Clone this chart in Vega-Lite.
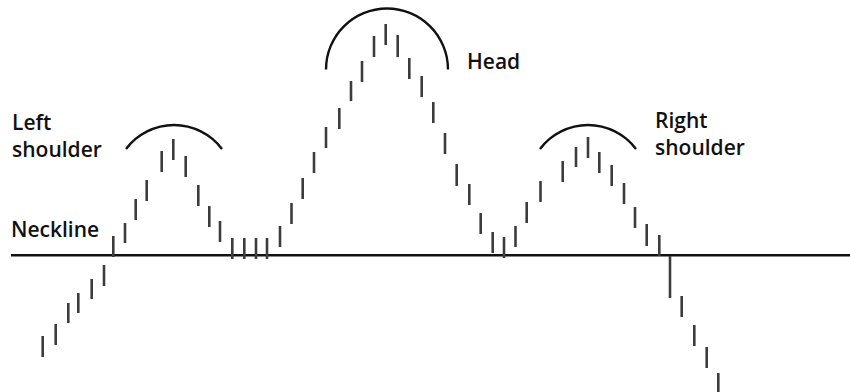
{
  "$schema": "https://vega.github.io/schema/vega-lite/v6.json",
  "width": 850,
  "height": 392,
  "padding": 0,
  "autosize": {"type": "none"},
  "background": "white",
  "config": {"view": {"stroke": null}},
  "datasets": {
    "bars": [
      {"t": 42.7, "high": 56, "low": 35},
      {"t": 55.7, "high": 68, "low": 47},
      {"t": 68.3, "high": 89, "low": 69},
      {"t": 78.3, "high": 99, "low": 79},
      {"t": 91.7, "high": 113, "low": 93},
      {"t": 104, "high": 127, "low": 106},
      {"t": 113.3, "high": 156, "low": 135},
      {"t": 125, "high": 169, "low": 149},
      {"t": 135.7, "high": 193, "low": 172},
      {"t": 146.7, "high": 212, "low": 191},
      {"t": 161.7, "high": 241, "low": 220},
      {"t": 173.3, "high": 253, "low": 232},
      {"t": 185.7, "high": 236, "low": 215},
      {"t": 198.3, "high": 207, "low": 186},
      {"t": 209.3, "high": 186, "low": 165},
      {"t": 220, "high": 171, "low": 150},
      {"t": 232.3, "high": 154, "low": 133},
      {"t": 244.3, "high": 154, "low": 133},
      {"t": 256, "high": 154, "low": 133},
      {"t": 267, "high": 154, "low": 133},
      {"t": 280, "high": 166, "low": 145},
      {"t": 291.5, "high": 189, "low": 168},
      {"t": 302.7, "high": 214, "low": 193},
      {"t": 314, "high": 240, "low": 219},
      {"t": 326, "high": 265, "low": 244},
      {"t": 339.3, "high": 284, "low": 263},
      {"t": 351, "high": 311, "low": 291},
      {"t": 362, "high": 331, "low": 310},
      {"t": 374, "high": 356, "low": 335},
      {"t": 385.7, "high": 368, "low": 347},
      {"t": 397.7, "high": 357, "low": 335},
      {"t": 409.3, "high": 334, "low": 313},
      {"t": 421.7, "high": 316, "low": 295},
      {"t": 433.3, "high": 290, "low": 269},
      {"t": 445, "high": 259, "low": 238},
      {"t": 456.7, "high": 228, "low": 206},
      {"t": 469.3, "high": 208, "low": 187},
      {"t": 480.7, "high": 179, "low": 158},
      {"t": 492.7, "high": 160, "low": 139},
      {"t": 504, "high": 155, "low": 134},
      {"t": 515.5, "high": 166, "low": 145},
      {"t": 526.7, "high": 190, "low": 169},
      {"t": 540.5, "high": 211, "low": 190},
      {"t": 562.7, "high": 231, "low": 210},
      {"t": 576, "high": 245, "low": 225},
      {"t": 588, "high": 255, "low": 234},
      {"t": 599.3, "high": 240, "low": 219},
      {"t": 611.7, "high": 227, "low": 206},
      {"t": 624, "high": 209, "low": 188},
      {"t": 635, "high": 185, "low": 164},
      {"t": 646.7, "high": 168, "low": 146},
      {"t": 659.3, "high": 157, "low": 136},
      {"t": 670, "high": 136, "low": 94},
      {"t": 681.7, "high": 96, "low": 75},
      {"t": 694.3, "high": 67, "low": 46},
      {"t": 706.7, "high": 45, "low": 24},
      {"t": 718.3, "high": 19, "low": -3}
    ],
    "neckline": [{"t": 11, "t2": 850, "price": 136.7}],
    "arcs": [
      {"name": "Left shoulder", "t": 174, "price": 207, "start": -0.927, "end": 0.927},
      {"name": "Head", "t": 387, "price": 322.5, "start": -1.5708, "end": 1.5708},
      {"name": "Right shoulder", "t": 588, "price": 207, "start": -0.927, "end": 0.927}
    ],
    "labels": [
      {"label": "Left\nshoulder", "t": 12, "price": 262},
      {"label": "Neckline", "t": 11, "price": 155},
      {"label": "Head", "t": 467, "price": 323.5},
      {"label": "Right\nshoulder", "t": 655, "price": 264}
    ]
  },
  "layer": [
    {
      "data": {"name": "neckline"},
      "mark": {"type": "rule", "color": "#111111", "strokeWidth": 2.5},
      "encoding": {
        "x": {"field": "t", "type": "quantitative", "scale": {"domain": [0, 850], "nice": false, "zero": false}, "axis": null},
        "x2": {"field": "t2"},
        "y": {"field": "price", "type": "quantitative", "scale": {"domain": [0, 392], "nice": false, "zero": false}, "axis": null}
      }
    },
    {
      "data": {"name": "bars"},
      "mark": {"type": "rule", "color": "#3c3c3c", "strokeWidth": 2.6},
      "encoding": {
        "x": {"field": "t", "type": "quantitative"},
        "y": {"field": "low", "type": "quantitative"},
        "y2": {"field": "high"}
      }
    },
    {
      "data": {"name": "arcs"},
      "transform": [{"filter": "datum.name !== 'Head'"}],
      "mark": {"type": "arc", "outerRadius": 61.2, "innerRadius": 58.8, "fill": "#111111"},
      "encoding": {
        "x": {"field": "t", "type": "quantitative"},
        "y": {"field": "price", "type": "quantitative"},
        "theta": {"field": "start", "type": "quantitative", "scale": null},
        "theta2": {"field": "end"}
      }
    },
    {
      "data": {"name": "arcs"},
      "transform": [{"filter": "datum.name === 'Head'"}],
      "mark": {"type": "arc", "outerRadius": 62.2, "innerRadius": 59.8, "fill": "#111111"},
      "encoding": {
        "x": {"field": "t", "type": "quantitative"},
        "y": {"field": "price", "type": "quantitative"},
        "theta": {"field": "start", "type": "quantitative", "scale": null},
        "theta2": {"field": "end"}
      }
    },
    {
      "data": {"name": "labels"},
      "mark": {"type": "text", "align": "left", "baseline": "alphabetic", "font": "Open Sans", "fontSize": 21, "fontWeight": 600, "color": "#111111", "lineBreak": "\n", "lineHeight": 27},
      "encoding": {
        "x": {"field": "t", "type": "quantitative"},
        "y": {"field": "price", "type": "quantitative"},
        "text": {"field": "label"}
      }
    }
  ]
}
